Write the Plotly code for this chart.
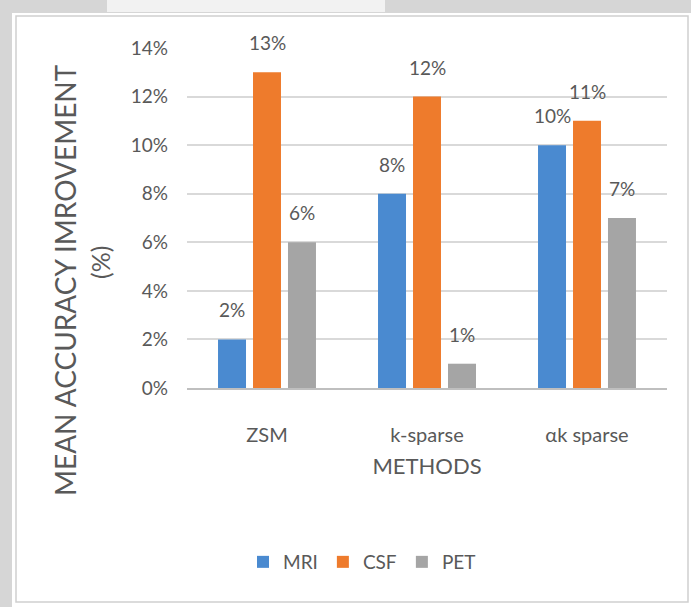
import plotly.graph_objects as go

methods = ["ZSM", "k-sparse", "αk sparse"]
mri = [0.02, 0.08, 0.10]
csf = [0.13, 0.12, 0.11]
pet = [0.06, 0.01, 0.07]
series_names = ["MRI", "CSF", "PET"]
series_values = [mri, csf, pet]
colors = ["#4A8AD0", "#EE7B2C", "#A5A5A5"]
y_ticks = [0, 0.02, 0.04, 0.06, 0.08, 0.10, 0.12, 0.14]
y_ticktext = ["0%", "2%", "4%", "6%", "8%", "10%", "12%", "14%"]

W, H = 691, 607
L, R, T, B = 187, 667, 48, 388
BARGAP, GROUPGAP = 0.344, 0.2


def px(x):
    return (x - L) / (R - L)


def py(y):
    return (B - y) / (B - T)


FONT = "Lato, 'Open Sans', sans-serif"
TXT = "#595959"

fig = go.Figure()
for name, vals, c in zip(series_names, series_values, colors):
    fig.add_trace(go.Bar(
        name=name, x=methods, y=vals, marker=dict(color=c, line=dict(width=0)),
    ))

# data labels, placed over each bar of the group
slot_px = (R - L) / len(methods) * (1 - BARGAP) / len(series_names)
annotations = []
for j, vals in enumerate(series_values):
    shift = (j - (len(series_names) - 1) / 2) * slot_px
    for m, v in zip(methods, vals):
        annotations.append(dict(
            x=m, y=v, xref="x", yref="y", text=f"{round(v*100)}%", showarrow=False,
            xanchor="center", yanchor="bottom", xshift=shift, yshift=16,
            font=dict(size=19, color=TXT, family=FONT)))

annotations += [
    dict(text="MEAN ACCURACY IMROVEMENT", xref="paper", yref="paper",
         x=px(65), y=py(280), textangle=-90, showarrow=False,
         xanchor="center", yanchor="middle",
         font=dict(size=28, color=TXT, family=FONT)),
    dict(text="(%)", xref="paper", yref="paper",
         x=px(100), y=py(263), textangle=-90, showarrow=False,
         xanchor="center", yanchor="middle",
         font=dict(size=25, color=TXT, family=FONT)),
]

fig.update_layout(
    width=W, height=H,
    margin=dict(l=L, r=W - R, t=T, b=H - B),
    paper_bgcolor="#d6d6d6", plot_bgcolor="rgba(0,0,0,0)",
    barmode="group", bargap=BARGAP, bargroupgap=GROUPGAP,
    font=dict(family=FONT, color=TXT),
    showlegend=True,
    legend=dict(orientation="h", x=px(362), xanchor="center", y=py(562), yanchor="middle",
                font=dict(size=19, color=TXT, family=FONT), bgcolor="rgba(0,0,0,0)",
                itemwidth=30, traceorder="normal"),
    xaxis=dict(showgrid=False, showline=True, linecolor="#BFBFBF", linewidth=2,
               tickfont=dict(size=20, color=TXT, family=FONT), ticks="",
               ticklabelstandoff=28,
               title=dict(text="METHODS", font=dict(size=22, color=TXT, family=FONT), standoff=14)),
    yaxis=dict(range=[0, 0.14], tickvals=y_ticks, ticktext=y_ticktext,
               showgrid=True, gridcolor="#D9D9D9", gridwidth=2, zeroline=False,
               showline=False, ticks="", ticklabelstandoff=18,
               tickfont=dict(size=19, color=TXT, family=FONT)),
    shapes=[
        dict(type="rect", xref="paper", yref="paper", x0=px(12), x1=px(700), y0=py(620), y1=py(13),
             fillcolor="white", line=dict(width=0), layer="below"),
        dict(type="rect", xref="paper", yref="paper", x0=px(16), x1=px(688), y0=py(602), y1=py(16),
             fillcolor="rgba(0,0,0,0)", line=dict(color="#D0D0D0", width=1.5), layer="below"),
        dict(type="rect", xref="paper", yref="paper", x0=px(107), x1=px(385), y0=py(12), y1=py(-5),
             fillcolor="#F2F2F2", line=dict(width=0), layer="below"),
    ],
    annotations=annotations,
)

fig.write_html("out.html")
